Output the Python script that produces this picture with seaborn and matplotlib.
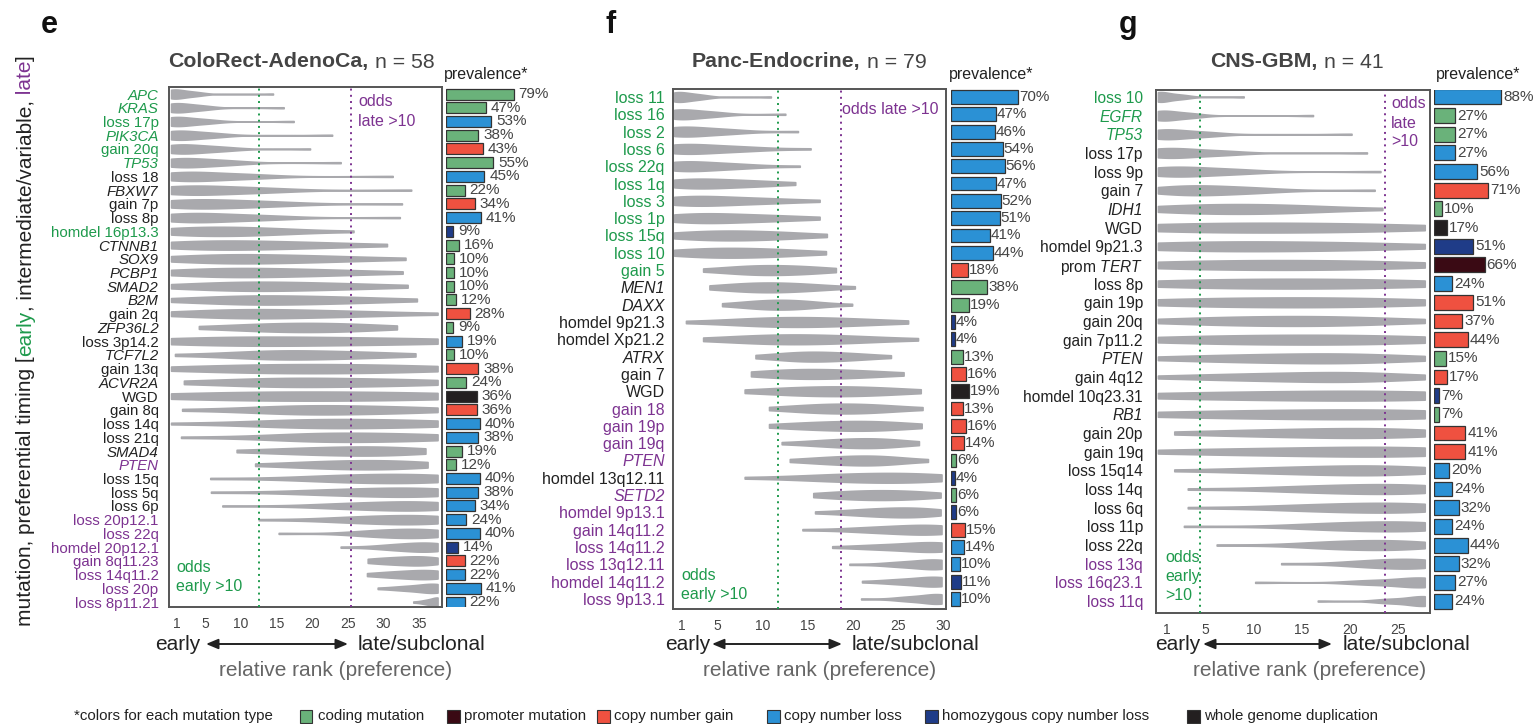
import numpy as np
import pandas as pd
import matplotlib
matplotlib.use("Agg")
import matplotlib.pyplot as plt
import seaborn as sns
from matplotlib.patches import Rectangle

# ---------------------------------------------------------------- data
# panel e : ColoRect-AdenoCa
e_labels = ["APC", "KRAS", "loss 17p", "PIK3CA", "gain 20q", "TP53", "loss 18", "FBXW7",
            "gain 7p", "loss 8p", "homdel 16p13.3", "CTNNB1", "SOX9", "PCBP1", "SMAD2", "B2M",
            "gain 2q", "ZFP36L2", "loss 3p14.2", "TCF7L2", "gain 13q", "ACVR2A", "WGD", "gain 8q",
            "loss 14q", "loss 21q", "SMAD4", "PTEN", "loss 15q", "loss 5q", "loss 6p",
            "loss 20p12.1", "loss 22q", "homdel 20p12.1", "gain 8q11.23", "loss 14q11.2",
            "loss 20p", "loss 8p11.21"]
e_timing = list("EEEEEEMMMMEMMMMMMMMMMMMMMMMLMMMLLLLLLL")
e_types = list("CCLCGCLCGLHCCCCCGCLCGCWGLLCCLLLLLHGLLL")
e_prev = [79, 47, 53, 38, 43, 55, 45, 22, 34, 41, 9, 16, 10, 10, 10, 12, 28, 9, 19, 10, 38, 24,
          36, 36, 40, 38, 19, 12, 40, 38, 34, 24, 40, 14, 22, 22, 41, 22]
# violin summary: min, start of body, mode, end of body, max (rank)
e_lo = [.2, .2, .2, .2, .2, .2, .2, .2, .2, .2, .2, .2, .2, .2, .2, .2, .2, 4.1, .2, .75, .2, 2,
        .2, 1.75, .2, 1.6, 9.4, 12, 5.7, 5.8, 7.4, 12.5, 15.3, 24, 27.8, 27.7, 29.2, 34.2]
e_a = [.2, .2, .2, .2, .5, .5, 1, 1, 1.5, 1.5, 2, 3, 5, 5, 7, 8, 7, 12, 6, 12, 9, 12, 7, 15, 16,
       18, 18, 20, 22, 22, 24, 25, 28, 31, 30, 31, 33, 36]
e_mode = [1, 1.5, 1.5, 2, 2.5, 3, 4, 5, 6, 5, 8, 10, 12, 12, 14, 15, 14, 19, 16, 18, 20, 20, 20,
          22, 24, 25, 26, 27, 30, 31, 32, 32, 33, 35, 34, 35, 36.5, 37.6]
e_b = [3.5, 4.5, 5, 6, 7, 8, 11, 13, 14, 13, 15, 20, 22, 22, 24, 25, 25, 26, 32, 27, 32, 32, 35,
       32, 35, 35, 32, 33, 37, 37, 37, 37, 37, 37.6, 36.5, 37.6, 37.6, 37.6]
e_hi = [14.5, 16, 17.4, 22.8, 19.7, 24, 31.3, 33.9, 32.6, 32.3, 25.8, 30.5, 33.1, 32.7, 33.4,
        34.7, 37.6, 31.9, 37.6, 34.5, 37.6, 37.6, 37.6, 37.6, 37.6, 37.6, 35.9, 36.2, 37.6, 37.6,
        37.6, 37.6, 37.6, 37.6, 37.6, 37.6, 37.6, 37.6]
e_ticks = [1, 5, 10, 15, 20, 25, 30, 35]

# panel f : Panc-Endocrine
f_labels = ["loss 11", "loss 16", "loss 2", "loss 6", "loss 22q", "loss 1q", "loss 3", "loss 1p",
            "loss 15q", "loss 10", "gain 5", "MEN1", "DAXX", "homdel 9p21.3", "homdel Xp21.2",
            "ATRX", "gain 7", "WGD", "gain 18", "gain 19p", "gain 19q", "PTEN", "homdel 13q12.11",
            "SETD2", "homdel 9p13.1", "gain 14q11.2", "loss 14q11.2", "loss 13q12.11",
            "homdel 14q11.2", "loss 9p13.1"]
f_timing = list("EEEEEEEEEEEMMMMMMMLLLLMLLLLLLL")
f_types = list("LLLLLLLLLLGCCHHCGWGGGCHCHGLLHL")
f_prev = [70, 47, 46, 54, 56, 47, 52, 51, 41, 44, 18, 38, 19, 4, 4, 13, 16, 19, 13, 16, 14, 6, 4,
          6, 6, 15, 14, 10, 11, 10]
f_lo = [.2, .2, .2, .2, .2, .2, .2, .2, .2, .2, 3.4, 4.1, 5.5, 1.5, 3.4, 9.2, 8.7, 8, 10.7, 10.7,
        12.1, 13, 8, 15.6, 15.8, 14.4, 17.7, 19.6, 21, 20.9]
f_a = [.2, .2, .2, .3, .3, 1, 1, 1.5, 2.5, 2.5, 7.5, 7.5, 9, 9, 9, 13, 12, 13, 15, 15, 17, 17, 17,
       19, 21, 22, 23, 25, 25, 26]
f_mode = [1, 1.5, 2, 2.5, 2.5, 4, 4, 5, 7, 7, 11, 11, 12, 14, 14, 16, 16, 18, 19, 20, 21, 21, 23,
          23, 25, 27, 28, 28.5, 28.5, 29]
f_b = [3, 4.5, 6, 7.5, 7, 9, 10, 11, 12, 12, 15, 15, 15, 20, 20, 20, 21, 23, 23, 24, 24, 24, 28,
       27, 28, 29.8, 29.8, 29.8, 29.8, 29.8]
f_hi = [10.9, 12.5, 13.9, 15.3, 14.1, 13.6, 16.3, 16.3, 17.1, 17, 18.1, 20.2, 19.9, 26.1, 27.2,
        24.2, 25.6, 27.5, 27.7, 27.6, 27.3, 28.3, 29.8, 29.7, 29.7, 29.8, 29.8, 29.8, 29.8, 29.8]
f_ticks = [1, 5, 10, 15, 20, 25, 30]

# panel g : CNS-GBM
g_labels = ["loss 10", "EGFR", "TP53", "loss 17p", "loss 9p", "gain 7", "IDH1", "WGD",
            "homdel 9p21.3", "prom TERT", "loss 8p", "gain 19p", "gain 20q", "gain 7p11.2", "PTEN",
            "gain 4q12", "homdel 10q23.31", "RB1", "gain 20p", "gain 19q", "loss 15q14",
            "loss 14q", "loss 6q", "loss 11p", "loss 22q", "loss 13q", "loss 16q23.1", "loss 11q"]
g_timing = list("EEEMMMMMMMMMMMMMMMMMMMMMMLLL")
g_types = list("LCCLLGCWHPLGGGCGHCGGLLLLLLLL")
g_prev = [88, 27, 27, 27, 56, 71, 10, 17, 51, 66, 24, 51, 37, 44, 15, 17, 7, 7, 41, 41, 20, 24,
          32, 24, 44, 32, 27, 24]
g_lo = [.1, .1, .1, .1, .1, .1, .1, .1, .1, .1, .1, .1, .1, .1, .1, .1, .1, .1, 1.8, .1, 1.8, 3.2,
        3.2, 2.8, 6.2, 12.9, 10.2, 16.7]
g_a = [.1, .1, .2, .3, .5, 2, 3, 2, 2, 3, 4, 4, 6, 5, 7, 8, 5, 6, 10, 8, 12, 15, 15, 17, 17, 21,
       22, 24]
g_mode = [.5, 1, 1.5, 2, 3, 5, 9, 12, 11, 13, 14, 14, 14, 15, 16, 17, 18, 18, 19, 20, 20, 22, 22,
          23, 22, 25, 27, 27.5]
g_b = [2.5, 3.5, 5, 6.5, 8, 10, 15, 22, 21, 22, 24, 23, 21, 24, 22, 22, 27, 27, 25, 27, 25, 27, 27,
       27.8, 26, 27.8, 27.8, 27.8]
g_hi = [9, 16.2, 20.2, 21.8, 23.2, 22.6, 23.4, 27.8, 27.8, 27.8, 27.8, 27.8, 27.8, 27.8, 27.8,
        27.8, 27.8, 27.8, 27.8, 27.8, 27.8, 27.8, 27.8, 27.8, 27.8, 27.8, 27.8, 27.8]
g_ticks = [1, 5, 10, 15, 20, 25]

TYPE_NAME = {"C": "coding mutation", "P": "promoter mutation", "G": "copy number gain",
             "L": "copy number loss", "H": "homozygous copy number loss",
             "W": "whole genome duplication"}
PALETTE = {"coding mutation": "#6ab27a", "promoter mutation": "#3a0a14",
           "copy number gain": "#ef5140", "copy number loss": "#2b91d5",
           "homozygous copy number loss": "#1f3c88", "whole genome duplication": "#231f20"}

GREEN = "#1e9a4c"
PURPLE = "#7d3391"
GRAY = "#a9a9ad"
TIMING_COL = {"E": GREEN, "M": "#222222", "L": PURPLE}

# ---------------------------------------------------------------- style
sns.set_theme(style="white")
plt.rcParams["font.family"] = ["Liberation Sans", "DejaVu Sans"]
plt.rcParams["mathtext.fontset"] = "custom"
plt.rcParams["mathtext.rm"] = "Liberation Sans"
plt.rcParams["mathtext.it"] = "Liberation Sans:italic"

W, H = 1537, 724
fig = plt.figure(figsize=(W / 100, H / 100), dpi=100)

REP = [1, 4, 5, 4, 1]


def violin_frame(labels, lo, a, m, b, hi):
    rows = []
    for lab, *q in zip(labels, lo, a, m, b, hi):
        for v, k in zip(q, REP):
            rows += [(lab, v)] * k
    return pd.DataFrame(rows, columns=["event", "rank"])


def iqr_bw(kde):
    d = kde.dataset.ravel()
    q1, q3 = np.percentile(d, [25, 75])
    bw = max(0.8, 0.42 * (q3 - q1))
    return bw / d.std(ddof=1)


def disp(lab):
    if lab.startswith("prom "):
        return "prom $\\mathit{" + lab[5:] + "}$"
    return lab


def panel(labels, timing, types, prev, lo, a, m, b, hi, vbox, bar_left, px_per, xlim, ylim,
          ticks, vlines, fs, pad, gap, vwidth):
    l, t, r, btm = vbox
    ax = fig.add_axes([l / W, 1 - btm / H, (r - l) / W, (btm - t) / H])
    axb = fig.add_axes([bar_left / W, 1 - btm / H, 100 * px_per / W, (btm - t) / H])
    vdf = violin_frame(labels, lo, a, m, b, hi)
    sns.violinplot(data=vdf, x="rank", y="event", order=labels, orient="h", ax=ax, color=GRAY,
                   linecolor=GRAY, linewidth=1.2, inner=None, cut=0, density_norm="width",
                   width=vwidth, bw_method=iqr_bw, saturation=1)
    for x, c in zip(vlines, [GREEN, PURPLE]):
        ax.axvline(x, color=c, ls=(0, (1, 2.2)), lw=1.4, zorder=5)
    ax.set_xlim(*xlim)
    ax.set_ylim(*ylim)
    ax.set_xticks(ticks)
    ax.set_xticklabels([str(v) for v in ticks])
    ax.tick_params(axis="x", length=0, pad=7, labelsize=10, labelcolor="#444444")
    ax.set_yticks(range(len(labels)))
    ax.set_yticklabels([disp(s) for s in labels])
    ax.tick_params(axis="y", length=0, pad=pad, labelsize=fs)
    for tl, tm, ty in zip(ax.get_yticklabels(), timing, types):
        tl.set_color(TIMING_COL[tm])
        if ty == "C":
            tl.set_fontstyle("italic")
    ax.set_xlabel("")
    ax.set_ylabel("")
    for s in ax.spines.values():
        s.set_visible(True)
        s.set_color("#555555")
        s.set_linewidth(1.4)

    bdf = pd.DataFrame({"event": labels, "prev": prev, "type": [TYPE_NAME[c] for c in types]})
    sns.barplot(data=bdf, x="prev", y="event", hue="type", order=labels,
                hue_order=list(PALETTE), palette=PALETTE, dodge=False, orient="h", width=0.8,
                edgecolor="#333333", linewidth=0.9, ax=axb, legend=False, saturation=1)
    axb.set_xlim(0, 100)
    axb.set_ylim(*ylim)
    axb.axis("off")
    for i, p in enumerate(prev):
        axb.annotate(f"{p}%", xy=(p, i), xytext=(gap, 0), textcoords="offset points",
                     va="center", ha="left", fontsize=11, color="#444444",
                     annotation_clip=False)
    return ax


panel(e_labels, e_timing, e_types, e_prev, e_lo, e_a, e_mode, e_b, e_hi,
      (168.6, 87.3, 441.8, 607), 445.7, 0.86, (-0.15, 38.2), (37.36, -0.49), e_ticks,
      (12.5, 25.4), 10.8, 7.2, 3.5, 0.66)
panel(f_labels, f_timing, f_types, f_prev, f_lo, f_a, f_mode, f_b, f_hi,
      (672.7, 89, 946, 609), 950.7, 0.965, (0.03, 30.3), (29.58, -0.46), f_ticks,
      (11.66, 18.67), 11.5, 5.8, 0.6, 0.56)
panel(g_labels, g_timing, g_types, g_prev, g_lo, g_a, g_mode, g_b, g_hi,
      (1156, 90, 1430, 613), 1434, 0.767, (-0.1, 28.35), (27.64, -0.37), g_ticks,
      (4.47, 23.7), 11.2, 9.4, 1.5, 0.52)

# ---------------------------------------------------------------- annotations (pixel space)
bg = fig.add_axes([0, 0, 1, 1], zorder=10)
bg.set_xlim(0, W)
bg.set_ylim(H, 0)
bg.axis("off")
bg.patch.set_alpha(0)

# panel letters
for x, s in [(41, "e"), (606, "f"), (1119, "g")]:
    bg.text(x, 33, s, fontsize=22, weight="bold", color="#111111", ha="left", va="baseline")

# titles
for x, bold, reg in [(168.6, "ColoRect-AdenoCa,", "n = 58"), (692, "Panc-Endocrine,", "n = 79"),
                     (1210.6, "CNS-GBM,", "n = 41")]:
    tb = bg.text(x, 67.5, bold, fontsize=15.3, weight="bold", color="#444444", ha="left",
                 va="baseline")
    bg.annotate(reg, xy=(1, 0), xycoords=tb, xytext=(4.3, 0), textcoords="offset points",
                fontsize=15.3, color="#444444", ha="left", va="bottom")

# prevalence headers
for x in [444, 949, 1435.6]:
    bg.text(x, 78.5, "prevalence*", fontsize=11.5, color="#222222", ha="left", va="baseline")

# odds annotations
ODD = dict(fontsize=11.5, ha="left", va="center")
bg.text(358, 102, "odds", color=PURPLE, **ODD)
bg.text(358, 122, "late >10", color=PURPLE, **ODD)
bg.text(842, 109, "odds late >10", color=PURPLE, **ODD)
bg.text(1391, 103, "odds", color=PURPLE, **ODD)
bg.text(1391, 123, "late", color=PURPLE, **ODD)
bg.text(1391, 142, ">10", color=PURPLE, **ODD)
bg.text(176, 568, "odds", color=GREEN, **ODD)
bg.text(176, 587, "early >10", color=GREEN, **ODD)
bg.text(681, 575, "odds", color=GREEN, **ODD)
bg.text(681, 595, "early >10", color=GREEN, **ODD)
bg.text(1165, 558, "odds", color=GREEN, **ODD)
bg.text(1165, 577, "early", color=GREEN, **ODD)
bg.text(1165, 596, ">10", color=GREEN, **ODD)

# early <-> late arrows and axis titles
for e_end, a1, a2, l_start, cx in [(200, 206, 348, 358, 335.4), (710.7, 712, 842, 852, 819.4),
                                   (1200.7, 1203, 1332, 1342.7, 1309.4)]:
    bg.text(e_end, 644, "early", fontsize=15, color="#222222", ha="right", va="center")
    bg.text(l_start, 644, "late/subclonal", fontsize=15, color="#222222", ha="left",
            va="center")
    bg.annotate("", xy=(a2, 644), xytext=(a1, 644),
                arrowprops=dict(arrowstyle="<|-|>,head_length=0.6,head_width=0.25",
                                color="#222222", lw=1.4, shrinkA=0, shrinkB=0))
    bg.text(cx, 671, "relative rank (preference)", fontsize=15, color="#666666", ha="center",
            va="center")

# y-axis label with coloured words, pieces chained end to end (reading bottom to top)
pieces = [("mutation, preferential timing [", "#222222"), ("early", GREEN),
          (", intermediate/variable,", "#222222"), (" late", PURPLE), ("]", "#222222")]
prev_t = bg.text(31, 626, pieces[0][0], rotation=90, rotation_mode="anchor", ha="left",
                 va="baseline", fontsize=15, color=pieces[0][1])
for s, c in pieces[1:]:
    prev_t = bg.annotate(s, xy=(31, 1), xycoords=("data", prev_t), rotation=90,
                         rotation_mode="anchor", ha="left", va="baseline", fontsize=15,
                         color=c)

# legend
LEG = 10.8
bg.text(73.7, 716, "*colors for each mutation type", fontsize=LEG, color="#222222",
        ha="left", va="center")
for sx, tx, name in [(299.6, 318, "coding mutation"), (447, 464.5, "promoter mutation"),
                     (597, 614, "copy number gain"), (767, 783.5, "copy number loss"),
                     (925, 942, "homozygous copy number loss"),
                     (1187, 1204.5, "whole genome duplication")]:
    bg.add_patch(Rectangle((sx, 709.5), 12.5, 13, facecolor=PALETTE[name], edgecolor="#333333",
                           lw=0.8))
    bg.text(tx, 716, name, fontsize=LEG, color="#222222", ha="left", va="center")

fig.savefig("out.png", dpi=100)
